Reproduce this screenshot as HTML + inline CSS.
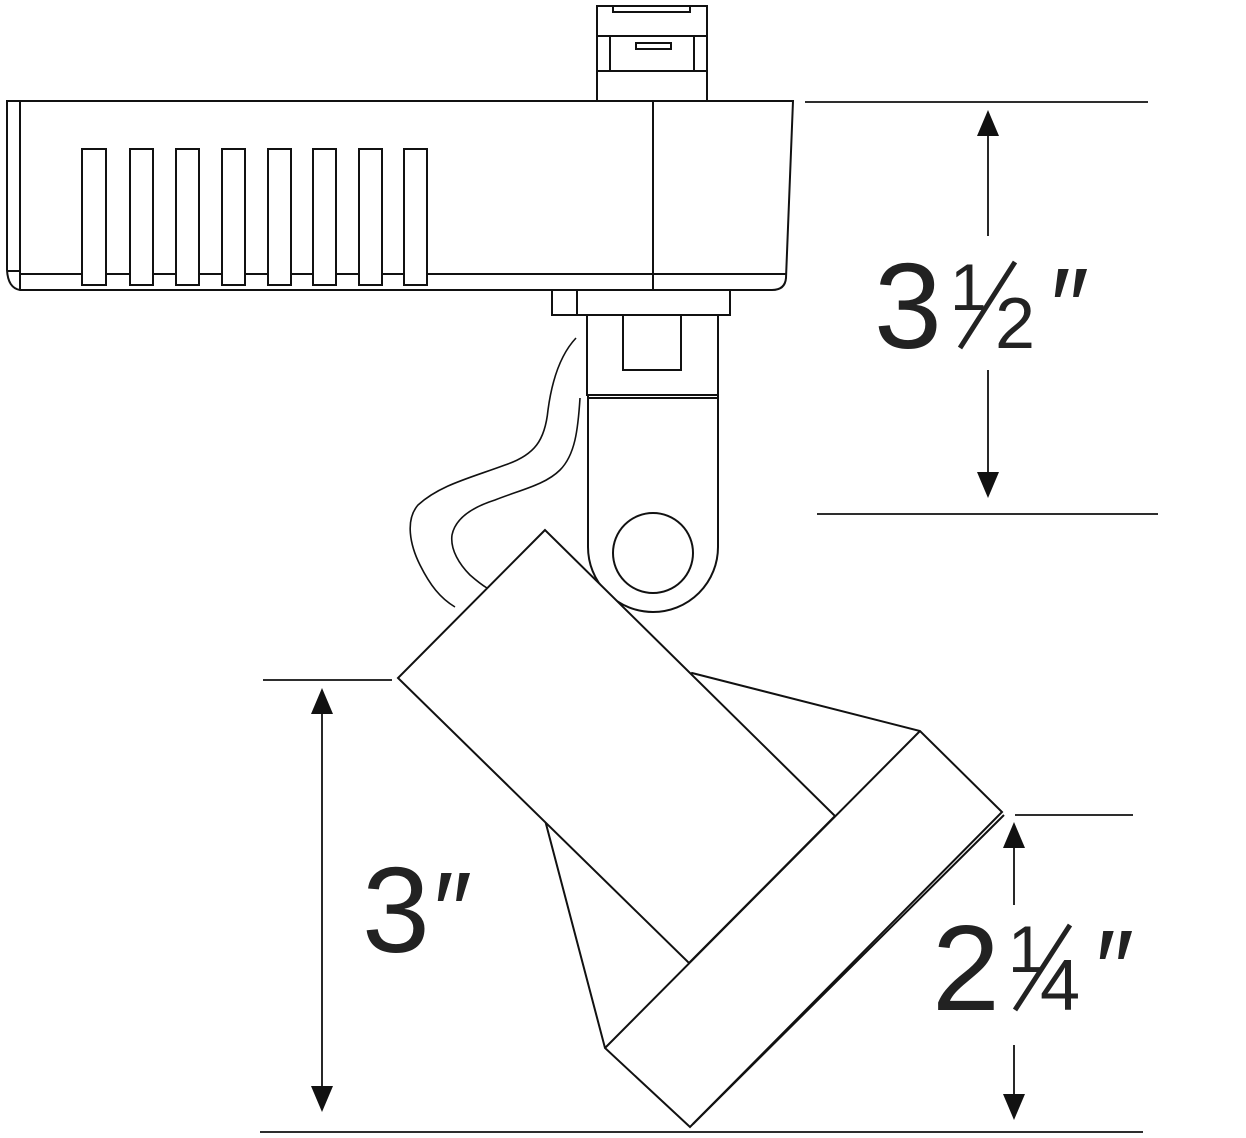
<!DOCTYPE html>
<html><head><style>html,body{margin:0;padding:0;background:#fff}svg{display:block}text{font-family:"Liberation Sans",sans-serif;fill:#222}</style></head>
<body>
<svg width="1246" height="1138" viewBox="0 0 1246 1138" xmlns="http://www.w3.org/2000/svg">
<g fill="none" stroke="#111" stroke-width="2">
<!-- housing -->
<path d="M7,101 H793 L786,278 Q785,290 772,290 H20 Q8,288 7,270 Z" fill="#fff"/>
<line x1="20" y1="101" x2="20" y2="290"/>
<line x1="7" y1="271" x2="20" y2="271"/>
<line x1="20" y1="274" x2="786" y2="274"/>
<line x1="653" y1="101" x2="653" y2="290"/>
<g fill="#fff">
<rect x="82" y="149" width="24" height="136"/><rect x="130" y="149" width="23" height="136"/>
<rect x="176" y="149" width="23" height="136"/><rect x="222" y="149" width="23" height="136"/>
<rect x="268" y="149" width="23" height="136"/><rect x="313" y="149" width="23" height="136"/>
<rect x="359" y="149" width="23" height="136"/><rect x="404" y="149" width="23" height="136"/>
</g>
<!-- connector -->
<rect x="597" y="6" width="110" height="95" fill="#fff"/>
<path d="M613,6 V12 H690 V6"/>
<line x1="597" y1="36" x2="707" y2="36"/>
<line x1="597" y1="71" x2="707" y2="71"/>
<line x1="610" y1="36" x2="610" y2="71"/><line x1="694" y1="36" x2="694" y2="71"/>
<rect x="636" y="43" width="35" height="6"/>
<!-- stem -->
<rect x="552" y="290" width="178" height="25" fill="#fff"/>
<line x1="577" y1="290" x2="577" y2="315"/>
<rect x="587" y="315" width="131" height="80" fill="#fff"/>
<rect x="623" y="315" width="58" height="55"/>
<path d="M588,395 H718 V547 A65,65 0 0 1 588,547 Z" fill="#fff"/>
<line x1="588" y1="398" x2="718" y2="398"/>
<circle cx="653" cy="553" r="40"/>
<!-- wire -->
<path d="M576,338 C560,355 552,380 548,410 C545,440 535,455 505,465 C470,478 440,485 418,505 C405,520 410,545 420,565 C430,585 440,598 455,607" stroke-width="1.6"/>
<path d="M580,398 C578,430 575,455 560,470 C545,485 520,490 495,500 C470,508 455,520 452,535 C450,550 460,565 470,575 C478,582 482,585 487,588" stroke-width="1.6"/>
<!-- lamp -->
<path d="M692,673 L920,731 L1002,812 L690,1127 L605,1048 L545,820 Z" fill="#fff"/>
<path d="M545,530 L398,678 L689,963 L835,816 Z" fill="#fff"/>
<line x1="605" y1="1048" x2="920" y2="731"/>
<line x1="693" y1="1124" x2="1004" y2="815"/>
</g>
<!-- dimension lines -->
<g stroke="#111" stroke-width="1.8">
<line x1="805" y1="102" x2="1148" y2="102"/>
<line x1="817" y1="514" x2="1158" y2="514"/>
<line x1="988" y1="125" x2="988" y2="236"/>
<line x1="988" y1="370" x2="988" y2="480"/>
<line x1="263" y1="680" x2="392" y2="680"/>
<line x1="260" y1="1132" x2="1143" y2="1132"/>
<line x1="322" y1="705" x2="322" y2="1095"/>
<line x1="1015" y1="815" x2="1133" y2="815"/>
<line x1="1014" y1="845" x2="1014" y2="905"/>
<line x1="1014" y1="1045" x2="1014" y2="1100"/>
</g>
<g fill="#111">
<polygon points="988,110 977,136 999,136"/>
<polygon points="988,498 977,472 999,472"/>
<polygon points="322,688 311,714 333,714"/>
<polygon points="322,1112 311,1086 333,1086"/>
<polygon points="1014,822 1003,848 1025,848"/>
<polygon points="1014,1120 1003,1094 1025,1094"/>
</g>
<!-- labels -->
<text x="874" y="348" font-size="122">3</text>
<text x="950" y="310" font-size="66">1</text>
<line x1="960" y1="348" x2="1015" y2="262" stroke="#222" stroke-width="5"/>
<text x="995" y="348" font-size="72">2</text>
<text x="1045" y="345" font-size="110" font-style="italic">″</text>
<text x="362" y="952" font-size="122">3</text>
<text x="428" y="949" font-size="110" font-style="italic">″</text>
<text x="932" y="1010" font-size="122">2</text>
<text x="1008" y="972" font-size="66">1</text>
<line x1="1015" y1="1010" x2="1070" y2="925" stroke="#222" stroke-width="5"/>
<text x="1040" y="1010" font-size="72">4</text>
<text x="1090" y="1007" font-size="110" font-style="italic">″</text>
</svg>
</body></html>
